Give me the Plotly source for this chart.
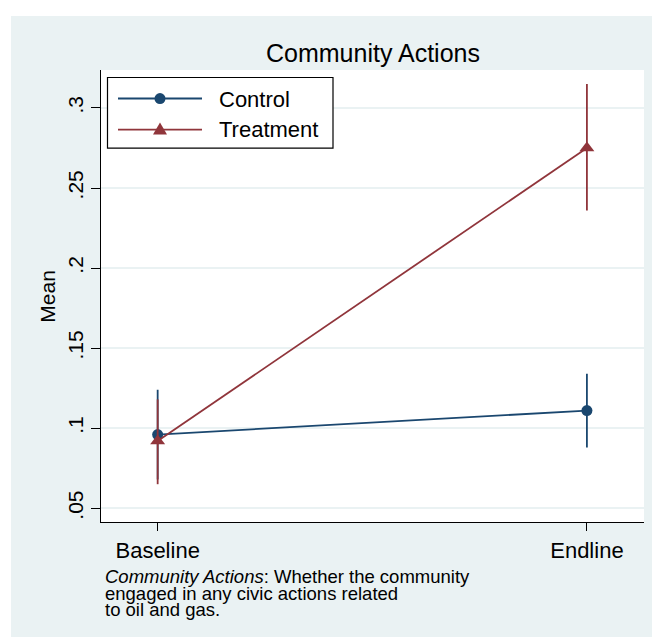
import plotly.graph_objects as go

# ---- data ----
categories = ["Baseline", "Endline"]
x_pos = [0, 1]
control_mean = [0.096, 0.111]
control_lo = [0.068, 0.088]
control_hi = [0.124, 0.134]
treat_mean = [0.092, 0.275]
treat_lo = [0.065, 0.236]
treat_hi = [0.118, 0.315]
y_ticks = [0.05, 0.1, 0.15, 0.2, 0.25, 0.3]
y_ticklabels = [".05", ".1", ".15", ".2", ".25", ".3"]

NAVY = "#1A476F"
MAROON = "#90353B"
BG = "#EAF2F3"
FONT = "Liberation Sans, Arial, sans-serif"

# page offset of the figure (default body margin)
OFF = 8
W, H = 660, 637
PW, PH = 543, 451.7
L = 101 - OFF
T = 70 - OFF
R = W - L - PW
B = H - T - PH


def px(x):
    """reference page x -> paper coordinate"""
    return (x - OFF - L) / PW


def py(y):
    """reference page y -> paper coordinate"""
    return (T + PH - (y - OFF)) / PH


fig = go.Figure()


def add_series(mean, lo, hi, color, symbol, size, name):
    fig.add_trace(go.Scatter(
        x=x_pos, y=mean, mode="lines+markers", name=name,
        line=dict(color=color, width=1.8),
        marker=dict(color=color, symbol=symbol, size=size, line=dict(width=0)),
        error_y=dict(type="data", symmetric=False,
                     array=[h - m for h, m in zip(hi, mean)],
                     arrayminus=[m - l for m, l in zip(mean, lo)],
                     color=color, thickness=1.8, width=0),
        showlegend=False,
    ))


add_series(control_mean, control_lo, control_hi, NAVY, "circle", 11, "Control")
add_series(treat_mean, treat_lo, treat_hi, MAROON, "triangle-up", 13, "Treatment")

shapes = [
    # white margins at left and top
    dict(type="rect", xref="paper", yref="paper", x0=px(-20), x1=px(11), y0=py(H + 20), y1=py(-20),
         fillcolor="white", line=dict(width=0), layer="below"),
    dict(type="rect", xref="paper", yref="paper", x0=px(-20), x1=px(W + 20), y0=py(16), y1=py(-20),
         fillcolor="white", line=dict(width=0), layer="below"),
    # legend box
    dict(type="rect", xref="paper", yref="paper", x0=px(107.5), x1=px(333), y0=py(148), y1=py(77.5),
         fillcolor="white", line=dict(color="black", width=1.2), layer="above"),
    # legend lines
    dict(type="line", xref="paper", yref="paper", x0=px(118), x1=px(202), y0=py(98.5), y1=py(98.5),
         line=dict(color=NAVY, width=1.8), layer="above"),
    dict(type="line", xref="paper", yref="paper", x0=px(118), x1=px(202), y0=py(129.5), y1=py(129.5),
         line=dict(color=MAROON, width=1.8), layer="above"),
    # legend markers
    dict(type="circle", xref="paper", yref="paper", x0=px(154.5), x1=px(165.5), y0=py(104), y1=py(93),
         fillcolor=NAVY, line=dict(width=0), layer="above"),
    dict(type="path", xref="paper", yref="paper", layer="above",
         path=f"M {px(153)},{py(134.5)} L {px(167)},{py(134.5)} L {px(160)},{py(122.5)} Z",
         fillcolor=MAROON, line=dict(width=0)),
]

annotations = [
    dict(text="Community Actions", xref="paper", yref="paper", x=0.5, y=py(53),
         xanchor="center", yanchor="middle", showarrow=False,
         font=dict(family=FONT, size=25, color="black")),
    dict(text="Mean", xref="paper", yref="paper", x=px(47.5), y=py(296),
         xanchor="center", yanchor="middle", textangle=-90, showarrow=False,
         font=dict(family=FONT, size=21, color="black")),
    dict(text="Control", xref="paper", yref="paper", x=px(217), y=py(99),
         xanchor="left", yanchor="middle", showarrow=False,
         font=dict(family=FONT, size=22, color="black")),
    dict(text="Treatment", xref="paper", yref="paper", x=px(217), y=py(129.5),
         xanchor="left", yanchor="middle", showarrow=False,
         font=dict(family=FONT, size=22, color="black")),
    dict(text="<i>Community Actions</i>: Whether the community", xref="paper", yref="paper",
         x=px(103), y=py(576), xanchor="left", yanchor="middle", showarrow=False,
         font=dict(family=FONT, size=18.5, color="black")),
    dict(text="engaged in any civic actions related", xref="paper", yref="paper",
         x=px(103), y=py(593), xanchor="left", yanchor="middle", showarrow=False,
         font=dict(family=FONT, size=18.5, color="black")),
    dict(text="to oil and gas.", xref="paper", yref="paper",
         x=px(103), y=py(609.5), xanchor="left", yanchor="middle", showarrow=False,
         font=dict(family=FONT, size=18.5, color="black")),
]

fig.update_layout(
    width=W, height=H,
    margin=dict(l=L, r=R, t=T, b=B, pad=0),
    paper_bgcolor=BG, plot_bgcolor="white",
    font=dict(family=FONT, size=21, color="black"),
    shapes=shapes, annotations=annotations,
    showlegend=False,
)
fig.update_xaxes(
    range=[-0.132, 1.133], tickvals=x_pos, ticktext=categories,
    showline=True, linecolor="black", linewidth=1.2,
    ticks="outside", ticklen=8, tickcolor="black", tickwidth=1.2,
    showgrid=False, zeroline=False, fixedrange=True,
    tickfont=dict(family=FONT, size=22, color="black"),
)
fig.update_yaxes(
    range=[0.0414, 0.3237], tickvals=y_ticks, ticktext=y_ticklabels, tickangle=-90,
    showline=True, linecolor="black", linewidth=1.2,
    ticks="outside", ticklen=9, tickcolor="black", tickwidth=1.2,
    showgrid=True, gridcolor=BG, gridwidth=1.5, zeroline=False, fixedrange=True,
    tickfont=dict(family=FONT, size=21, color="black"),
)

fig.write_html("out.html")
